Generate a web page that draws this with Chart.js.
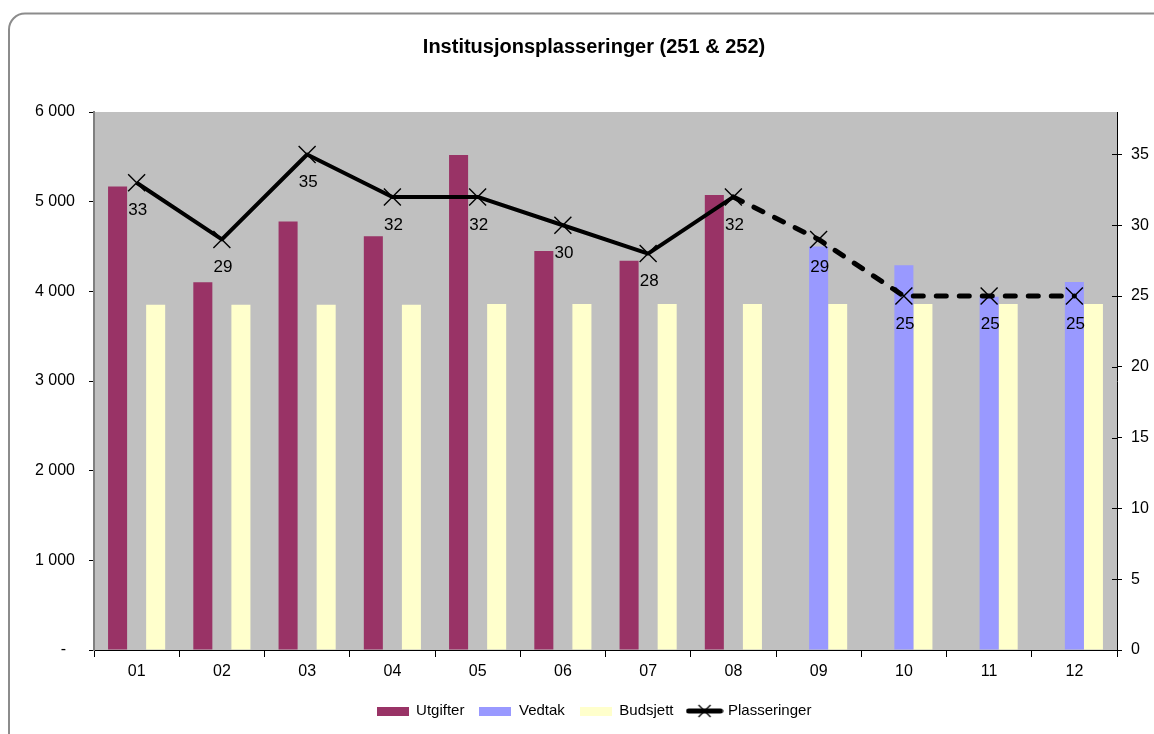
<!DOCTYPE html>
<html>
<head>
<meta charset="utf-8">
<script src="https://cdn.jsdelivr.net/npm/chart.js@4/dist/chart.umd.min.js"></script>
<style>
  html, body { margin: 0; padding: 0; background: #fff; }
  #wrap { position: relative; width: 1154px; height: 734px; }
</style>
</head>
<body>
<div id="wrap"><canvas id="c"></canvas></div>
<script>
const categories = ['01','02','03','04','05','06','07','08','09','10','11','12'];
const utgifter  = [5170, 4100, 4780, 4615, 5520, 4450, 4340, 5075, null, null, null, null];
const vedtak    = [null, null, null, null, null, null, null, null, 4500, 4290, 3940, 4105];
const budsjett  = [3850, 3850, 3850, 3850, 3860, 3860, 3860, 3860, 3860, 3860, 3860, 3860];
const plasseringer = [33, 29, 35, 32, 32, 30, 28, 32, 29, 25, 25, 25];
const leftTicks = [0, 1000, 2000, 3000, 4000, 5000, 6000];
const rightTicks = [0, 5, 10, 15, 20, 25, 30, 35];
const seriesNames = ['Utgifter', 'Vedtak', 'Budsjett', 'Plasseringer'];
const colors = ['#993366', '#9999FF', '#FFFFCC', '#000000'];

Chart.defaults.font.family = "'Liberation Sans', Arial, sans-serif";
Chart.defaults.color = '#000';

function swatch(color) {
  const c = document.createElement('canvas');
  c.width = 32; c.height = 9;
  const x = c.getContext('2d');
  x.fillStyle = color; x.fillRect(0, 0, 32, 9);
  return c;
}
function lineIcon() {
  const c = document.createElement('canvas');
  c.width = 38; c.height = 14;
  const x = c.getContext('2d');
  x.strokeStyle = '#000'; x.lineWidth = 5; x.lineCap = 'round';
  x.beginPath(); x.moveTo(3, 7); x.lineTo(35, 7); x.stroke();
  x.lineWidth = 1.3; x.lineCap = 'butt';
  x.beginPath(); x.moveTo(13, 1); x.lineTo(25, 13); x.moveTo(25, 1); x.lineTo(13, 13); x.stroke();
  return c;
}

const bgPlugin = {
  id: 'bg',
  beforeDraw(chart) {
    const ctx = chart.ctx;
    ctx.save();
    ctx.strokeStyle = '#8c8c8c';
    ctx.lineWidth = 2;
    ctx.beginPath();
    ctx.roundRect(9, 13.5, 1170, 760, 16);
    ctx.stroke();
    const a = chart.chartArea;
    ctx.fillStyle = '#C0C0C0';
    ctx.fillRect(a.left, a.top, a.right - a.left, a.bottom - a.top);
    ctx.restore();
  },
  afterDatasetsDraw(chart) {
    const ctx = chart.ctx;
    const idx = chart.data.datasets.findIndex(d => d.type === 'line');
    const meta = chart.getDatasetMeta(idx);
    ctx.save();
    ctx.font = "17px 'Liberation Sans', Arial, sans-serif";
    ctx.fillStyle = '#000';
    ctx.textAlign = 'center';
    ctx.textBaseline = 'middle';
    meta.data.forEach((pt, i) => {
      ctx.fillText(String(plasseringer[i]), pt.x + 1, pt.y + 28);
    });
    const y1 = chart.scales.y1;
    ctx.strokeStyle = '#000';
    ctx.lineWidth = 1;
    rightTicks.forEach(v => {
      const yy = Math.round(y1.getPixelForValue(v)) + 0.5;
      ctx.beginPath();
      ctx.moveTo(chart.chartArea.right - 5, yy);
      ctx.lineTo(chart.chartArea.right, yy);
      ctx.stroke();
    });
    ctx.restore();
  }
};

new Chart(document.getElementById('c'), {
  data: {
    labels: categories,
    datasets: [
      { type: 'line', label: seriesNames[3], data: plasseringer, yAxisID: 'y1', order: 0,
        borderColor: '#000', borderWidth: 4, backgroundColor: '#000',
        pointStyle: 'crossRot', pointRadius: 12, pointBorderWidth: 1.4,
        pointBorderColor: '#000', pointBackgroundColor: 'transparent',
        borderJoinStyle: 'round', tension: 0,
        segment: {
          borderDash: ctx => ctx.p0DataIndex >= 7 ? [10, 13] : undefined,
          borderWidth: ctx => ctx.p0DataIndex >= 7 ? 5 : 4,
          borderCapStyle: ctx => ctx.p0DataIndex >= 7 ? 'round' : 'butt'
        }
      },
      { type: 'bar', label: seriesNames[0], data: utgifter, backgroundColor: colors[0], yAxisID: 'y', order: 1,
        barPercentage: 1, categoryPercentage: 0.67 },
      { type: 'bar', label: seriesNames[1], data: vedtak, backgroundColor: colors[1], yAxisID: 'y', order: 1,
        barPercentage: 1, categoryPercentage: 0.67 },
      { type: 'bar', label: seriesNames[2], data: budsjett, backgroundColor: colors[2], yAxisID: 'y', order: 1,
        barPercentage: 1, categoryPercentage: 0.67 }
    ]
  },
  options: {
    responsive: true,
    maintainAspectRatio: false,
    animation: false,
    layout: { padding: { left: 34, right: 0, top: 25, bottom: 5.5 } },
    plugins: {
      title: {
        display: true,
        text: 'Institusjonsplasseringer (251 & 252)',
        font: { size: 20, weight: 'bold' },
        color: '#000',
        padding: { top: 10, bottom: 53 }
      },
      legend: {
        position: 'bottom',
        labels: {
          usePointStyle: true,
          pointStyleWidth: 32,
          padding: 15,
          font: { size: 15 },
          color: '#000',
          generateLabels: () => seriesNames.map((n, i) => ({
            text: n,
            pointStyle: i === 3 ? lineIcon() : swatch(colors[i]),
            fillStyle: colors[i], strokeStyle: colors[i], lineWidth: 0,
            hidden: false, datasetIndex: i === 3 ? 0 : i + 1
          }))
        }
      },
      tooltip: { enabled: false }
    },
    scales: {
      x: {
        type: 'category',
        offset: true,
        afterFit: s => { s.height = 38.5; },
        grid: { display: true, drawOnChartArea: false, offset: true, tickLength: 7, color: '#000', tickColor: '#000' },
        border: { display: true, color: '#000', width: 1 },
        ticks: { font: { size: 16 }, color: '#000', padding: 5, maxRotation: 0 }
      },
      y: {
        type: 'linear', position: 'left', min: 0, max: 6000,
        afterFit: s => { s.width = 60; },
        afterBuildTicks: s => { s.ticks = leftTicks.map(v => ({ value: v })); },
        grid: { display: true, drawOnChartArea: false, tickLength: 5, color: '#000' },
        border: { display: true, color: '#808080', width: 2 },
        ticks: {
          font: { size: 16 }, color: '#000', padding: 14,
          callback: v => v === 0 ? '-  ' : String(v).replace(/\B(?=(\d{3})+(?!\d))/g, ' ')
        }
      },
      y1: {
        type: 'linear', position: 'right', min: 0, max: 38,
        afterFit: s => { s.width = 37; },
        afterBuildTicks: s => { s.ticks = rightTicks.map(v => ({ value: v })); },
        grid: { display: true, drawOnChartArea: false, tickLength: 5, color: '#000' },
        border: { display: true, color: '#000', width: 1 },
        ticks: { font: { size: 16 }, color: '#000', padding: 9 }
      }
    }
  },
  plugins: [bgPlugin]
});
</script>
</body>
</html>
